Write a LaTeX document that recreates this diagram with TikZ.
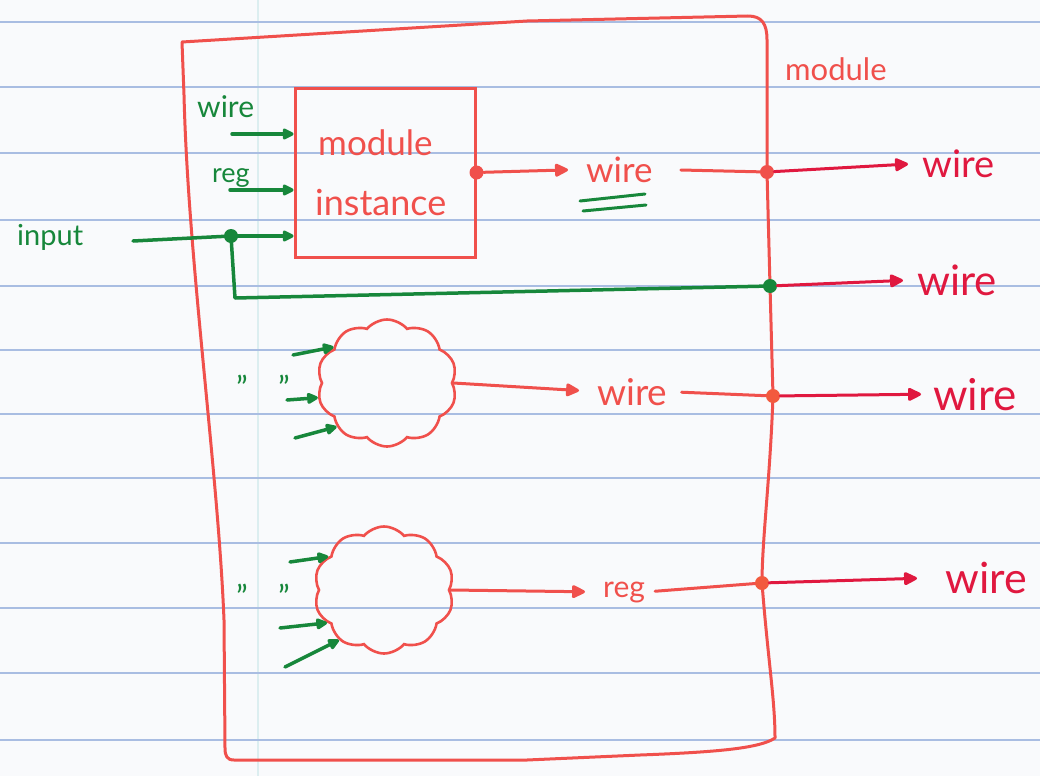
\documentclass[tikz,border=0pt]{standalone}
\usepackage{fontspec}
\setmainfont{Lato}
\usetikzlibrary{arrows.meta,shapes.symbols}

\definecolor{paper}{HTML}{F9FAFC}
\definecolor{ruling}{HTML}{A9BDE2}
\definecolor{marginline}{HTML}{DCEEF0}
\definecolor{penred}{HTML}{F0504C}
\definecolor{pendeep}{HTML}{E0183F}
\definecolor{pengreen}{HTML}{17873B}
\definecolor{dotorange}{HTML}{F25A3E}

\tikzset{
  redline/.style={draw=penred, line width=3pt, line cap=round, line join=round},
  deepline/.style={draw=pendeep, line width=3pt, line cap=round, line join=round},
  greenline/.style={draw=pengreen, line width=3.5pt, line cap=round, line join=round},
  redarrow/.style={-{Triangle[length=15pt,width=14pt,round]}},
  garrow/.style={-{Triangle[length=13pt,width=12pt,round]}},
  junction/.style={circle, inner sep=0pt, minimum size=14pt},
  lbl/.style={inner sep=0pt, anchor=base west, font=\fontsize{#1pt}{#1pt}\selectfont},
  ditto/.style={inner sep=0pt, anchor=base, text=pengreen, font=\fontsize{32pt}{32pt}\selectfont},
  blob/.style={cloud, cloud puffs=10, cloud puff arc=100, aspect=1.1, draw=penred,
    line width=2.6pt, inner sep=0pt, minimum width=140pt, minimum height=127pt}
}

\begin{document}
\begin{tikzpicture}[x=1pt,y=-1pt]
\useasboundingbox (0,0) rectangle (1040,776);
\fill[paper] (0,0) rectangle (1040,776);

% ruled notebook paper
\draw[marginline, line width=1.2pt] (258,0) -- (258,776);
\foreach \y in {22,87,153,220,286,350,414,478,543,608,673,740}
  \draw[ruling, line width=1.8pt] (0,\y) -- (1040,\y);

% outer module outline, passing through the output junctions
\coordinate (p1) at (767,172);
\coordinate (p2) at (770,286);
\coordinate (p3) at (773,396);
\coordinate (p4) at (762,583);
\draw[redline] (184,95) -- (182,42) -- (527,21) -- (748,16)
  .. controls (762,16) and (767,24) .. (767,40) -- (p1) -- (p2) -- (p3)
  .. controls (770,480) and (762,540) .. (p4)
  .. controls (768,660) and (775,700) .. (775,738)
  .. controls (760,748) and (720,752) .. (640,755) -- (527,760) -- (234,760)
  .. controls (227,760) and (225,756) .. (225,748) -- (224,620)
  .. controls (218,470) and (188,260) .. (184,95);
\node[lbl=31, text=penred] (modlbl) at (785,80) {module};

% module instance
\node[draw=penred, line width=3pt, minimum width=180pt, minimum height=169pt,
      inner sep=0pt] (inst) at (385,172.5) {};
\node[lbl=35, text=penred] (instA) at (318,155) {module};
\node[lbl=36, text=penred] (instB) at (315,215) {instance};

% green inputs of the instance
\node[lbl=30, text=pengreen] (wlab) at (197,117) {wire};
\node[lbl=27, text=pengreen] (rlab) at (212,182) {reg};
\node[lbl=29, text=pengreen] (inlab) at (17,245) {input};
\coordinate (wsrc) at (232,134);
\coordinate (rsrc) at (230,190);
\coordinate (insrc) at (133,241);
\coordinate (jpos) at (231,236);
\coordinate (bend) at (235,298);
\draw[greenline, garrow] (wsrc) -- (wsrc -| inst.west);
\draw[greenline, garrow] (rsrc) -- (rsrc -| inst.west);
\draw[greenline] (insrc) -- (jpos);
\draw[greenline, garrow] (jpos) -- (jpos -| inst.west);
\draw[greenline] (jpos) -- (bend) -- (p2);
\node[junction, fill=pengreen] (jn) at (jpos) {};

% clouds of logic
\node[blob] (c1) at (387,383) {};
\node[blob] (c2) at (384,590) {};

\coordinate (a1) at (293,355);
\coordinate (a2) at (287,400);
\coordinate (a3) at (295,438);
\draw[greenline, garrow] (a1) -- (c1.146);
\draw[greenline, garrow] (a2) -- (c1.192);
\draw[greenline, garrow] (a3) -- (c1.221);
\node[ditto] (q1) at (242,399) {"};
\node[ditto] (q2) at (284,399) {"};

\coordinate (b1) at (290,562);
\coordinate (b2) at (280,628);
\coordinate (b3) at (285,667);
\draw[greenline, garrow] (b1) -- (c2.149);
\draw[greenline, garrow] (b2) -- (c2.210);
\draw[greenline, garrow] (b3) -- (c2.228);
\node[ditto] (q3) at (242,608) {"};
\node[ditto] (q4) at (284,608) {"};

% internal signals
\node[junction, fill=penred] (iout) at (inst.east) {};
\node[lbl=35, text=penred] (w1) at (586,182) {wire};
\node[lbl=37, text=penred] (w3) at (597,405) {wire};
\node[lbl=30, text=penred] (g4) at (603,597) {reg};
\draw[greenline, line width=3pt] (580,201) -- (645,194);
\draw[greenline, line width=3pt] (583,211) -- (646,205);

\draw[redline, redarrow, shorten >=18pt] (iout) -- (w1.west);
\draw[redline, redarrow, shorten >=18pt] (c1.east) -- (w3.west);
\draw[redline, redarrow, shorten >=18pt] (c2.east) -- (g4.west);
\draw[redline, shorten <=28pt] (w1.east) -- (p1);
\draw[redline, shorten <=14pt] (w3.east) -- (p3);
\draw[redline, shorten <=10pt] (g4.east) -- (p4);

% module outputs
\node[junction, fill=penred] (d1) at (p1) {};
\node[junction, fill=pengreen] (d2) at (p2) {};
\node[junction, fill=dotorange] (d3) at (p3) {};
\node[junction, fill=dotorange] (d4) at (p4) {};
\node[lbl=38, text=pendeep] (r1) at (922,177) {wire};
\node[lbl=42, text=pendeep] (r2) at (917,295) {wire};
\node[lbl=44, text=pendeep] (r3) at (933,410) {wire};
\node[lbl=43, text=pendeep] (r4) at (945,593) {wire};
\draw[deepline, redarrow, shorten >=14pt] (d1) -- (r1.west);
\draw[deepline, redarrow, shorten >=14pt] (d2) -- (r2.west);
\draw[deepline, redarrow, shorten >=12pt] (d3) -- (r3.west);
\draw[deepline, redarrow, shorten >=28pt] (d4) -- (r4.west);
\end{tikzpicture}
\end{document}
